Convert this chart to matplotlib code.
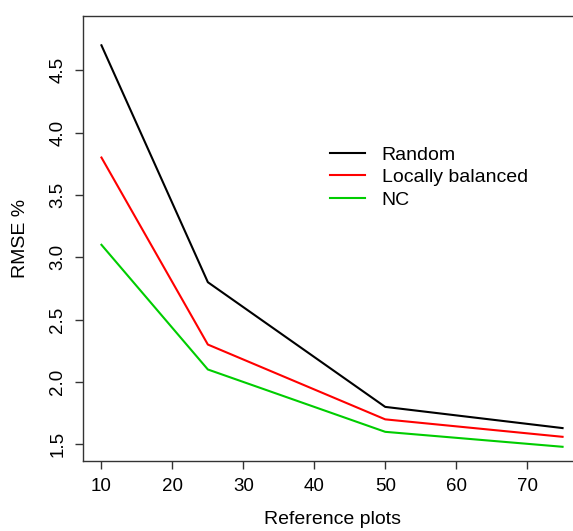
import matplotlib.pyplot as plt

plt.rcParams['font.family'] = ['Liberation Sans', 'DejaVu Sans']

# data
ref_plots = [10, 25, 50, 75]
rmse_random = [4.70, 2.80, 1.80, 1.63]
rmse_local = [3.80, 2.30, 1.70, 1.56]
rmse_nc = [3.10, 2.10, 1.60, 1.48]
series_names = ["Random", "Locally balanced", "NC"]
series_colors = ["black", "#ff0000", "#00cd00"]

W, H = 573, 531
fig = plt.figure(figsize=(W / 100, H / 100), dpi=100)

# axes box in pixels: left 83, right 581 (cut off), top 16, bottom 461
left, right, top, bottom = 83, 581, 16, 461
ax = fig.add_axes([left / W, 1 - bottom / H, (right - left) / W, (bottom - top) / H])

for vals, name, col in zip([rmse_random, rmse_local, rmse_nc], series_names, series_colors):
    ax.plot(ref_plots, vals, color=col, lw=1.5, label=name)

ax.set_xlim(7.4, 77.6)
ax.set_ylim(1.366, 4.935)
ax.set_xticks([10, 20, 30, 40, 50, 60, 70])
ax.set_yticks([1.5, 2.0, 2.5, 3.0, 3.5, 4.0, 4.5])
ax.set_yticklabels(["1.5", "2.0", "2.5", "3.0", "3.5", "4.0", "4.5"], rotation=90, va='center')
ax.tick_params(axis='both', length=6, width=1, color='#333333', labelsize=13.5, pad=6)
ax.tick_params(axis='y', pad=6)
for sp in ax.spines.values():
    sp.set_color('#333333')
    sp.set_linewidth(1)

ax.set_xlabel("Reference plots", fontsize=14)
ax.set_ylabel("RMSE %", fontsize=14)
ax.xaxis.set_label_coords((333 - left) / (right - left), -(520 - bottom) / (bottom - top), transform=ax.transAxes)
ax.yaxis.set_label_coords(-(83 - 20) / (right - left), 0.5)
ax.xaxis.label.set_va('center')
ax.yaxis.label.set_va('center')

ax.legend(loc='upper left', bbox_to_anchor=(330 / W, 1 - 146 / H), bbox_transform=fig.transFigure,
          frameon=False, fontsize=14, handlelength=1.8, handletextpad=0.85,
          labelspacing=0.25, borderpad=0, borderaxespad=0)

fig.savefig("out.png", dpi=100)
